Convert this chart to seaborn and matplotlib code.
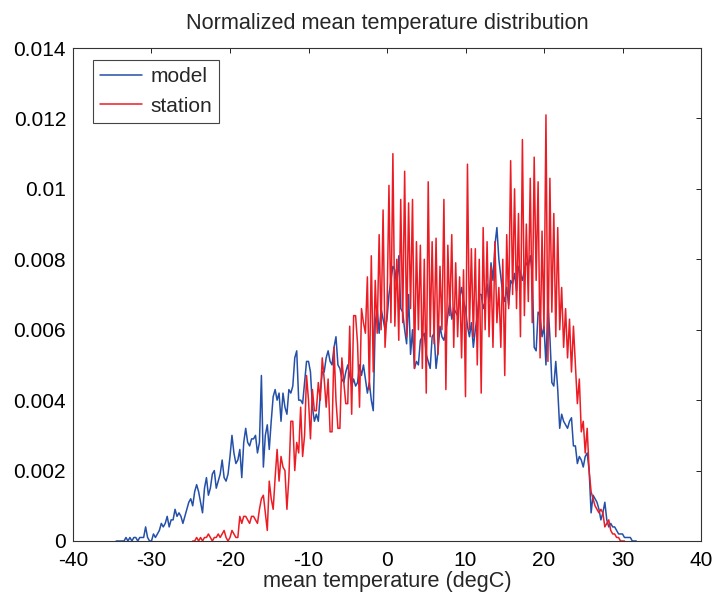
import numpy as np
import pandas as pd
import matplotlib
matplotlib.use("Agg")
import matplotlib.pyplot as plt
import seaborn as sns
from matplotlib.ticker import FuncFormatter

# bin grid (degC)
bin_step = 0.25
model_start = -34.5
station_start = -24.75

# normalized counts, in units of 1e-4
model_pdf = [
    0, 0,
    0, 0, 0, 1,  0, 1, 0, 1,  1, 0, 1, 1,  1, 4, 1, 0,  0, 2, 1, 2,
    3, 5, 4, 5,  7, 4, 6, 6,  9, 7, 8, 7,  5, 7, 9, 11,  12, 10, 14, 16,
    14, 11, 8, 15,  18, 13, 15, 19,  20, 15, 17, 19,  23, 18, 17, 19,  24, 30, 25, 22,
    23, 26, 18, 28,  32, 28, 27, 29,  29, 30, 25, 28,  47, 21, 30, 33,  26, 34, 41, 43,
    40, 42, 34, 42,  38, 36, 43, 42,  44, 52, 54, 40,  40, 39, 45, 51,  51, 48, 38, 34,
    36, 34, 42, 48,  48, 52, 54, 51,  50, 55, 58, 50,  49, 46, 45, 48,  50, 47, 44, 46,
    44, 45, 50, 47,  50, 46, 42, 45,  40, 37, 62, 66,  59, 66, 63, 60,
    63, 70, 74, 78,  77, 72, 81, 66,  65, 60, 56, 70,  53, 60, 49, 51,  50, 57, 58, 59,
    53, 51, 49, 58,  59, 49, 54, 61,  58, 57, 60, 64,  68, 63, 66, 65,  64, 69, 72, 68,
    66, 61, 58, 62,  55, 60, 64, 70,  70, 66, 68, 73,  68, 79, 74, 84,  89, 80, 75, 70,
    68, 72, 67, 74,  73, 76, 71, 78,  76, 74, 77, 79,  78, 81, 76, 55,  54, 65, 64, 58,
    61, 50, 68, 58,  45, 44, 51, 43,  32, 36, 34, 33,  32, 34, 35, 27,  27, 22, 24, 23,
    21, 24, 25, 20,  8, 13, 12, 11,  9, 6, 8, 11,  6, 4, 5, 4,  4, 3, 2, 2,
    2, 1, 1, 1,  1, 0, 0, 0,
]

station_pdf = [
    0, 0, 1,
    0, 1, 0, 1,  1, 2, 1, 0,  1, 1, 2, 1,  2, 3, 1, 0,  1, 3, 2, 1,
    1, 7, 5, 7,  7, 6, 5, 7,  7, 6, 5, 9,  12, 13, 8, 3,  17, 12, 9, 18,
    26, 17, 24, 21,  20, 9, 18, 34,  34, 20, 28, 25,  38, 24, 30, 47,  40, 29, 43, 37,
    37, 45, 40, 52,  46, 38, 46, 31,  31, 55, 40, 32,  32, 52, 45, 39,  39, 61, 36, 64,
    64, 56, 38, 66,  62, 59, 75, 43,  81, 48, 74, 59,  87, 60, 94, 55,
    65, 101, 62, 110,  61, 80, 57, 97,  62, 105, 58, 96,  66, 97, 49, 85,  60, 84, 49, 80,
    42, 102, 58, 85,  56, 86, 53, 78,  60, 97, 43, 84,  64, 87, 55, 79,  58, 75, 52, 77,
    41, 107, 60, 83,  58, 83, 50, 80,  42, 89, 60, 85,  58, 78, 55, 85,  62, 72, 55, 80,
    47, 87, 66, 108,  70, 100, 66, 93,  58, 114, 64, 90,  68, 103, 62, 109,  74, 102, 52, 88,
    60, 121, 51, 103,  65, 93, 58, 89,  60, 72, 55, 66,  52, 63, 48, 61,  50, 39, 46, 31,
    34, 25, 32, 20,  14, 12, 10, 9,  8, 9, 8, 4,  5, 6, 3, 2,  2, 1, 1, 0,
    0, 0,
]

model_df = pd.DataFrame({
    "temp": model_start + bin_step * np.arange(len(model_pdf)),
    "pdf": np.array(model_pdf) / 1e4,
})
station_df = pd.DataFrame({
    "temp": station_start + bin_step * np.arange(len(station_pdf)),
    "pdf": np.array(station_pdf) / 1e4,
})

sns.set_style("white")
plt.rcParams["font.family"] = ["Liberation Sans", "DejaVu Sans"]
plt.rcParams["axes.unicode_minus"] = False

fig = plt.figure(figsize=(7.12, 5.95), dpi=100)
ax = fig.add_axes([73 / 712, 54 / 595, 628 / 712, 493 / 595])

sns.lineplot(data=model_df, x="temp", y="pdf", color="#2450a8", linewidth=1.1,
             label="model", estimator=None, ax=ax)
sns.lineplot(data=station_df, x="temp", y="pdf", color="#ec1c24", linewidth=1.1,
             label="station", estimator=None, ax=ax)

ax.set_xlim(-40, 40)
ax.set_ylim(0, 0.014)
ax.set_xticks(np.arange(-40, 41, 10))
ax.set_yticks(np.arange(0, 0.0141, 0.002))
ax.yaxis.set_major_formatter(FuncFormatter(lambda v, _: f"{round(v, 4):g}"))
ax.tick_params(axis="both", direction="in", length=3.6, width=0.7, top=True, right=True,
               labelsize=15, colors="#222222", labelcolor="black")
ax.tick_params(axis="x", pad=7)
ax.tick_params(axis="y", pad=5)

for sp in ax.spines.values():
    sp.set_visible(True)
    sp.set_color("#333333")
    sp.set_linewidth(0.8)

ax.set_title("Normalized mean temperature distribution", fontsize=15.6, pad=14)
ax.set_xlabel("mean temperature (degC)", fontsize=15.6, labelpad=1)
ax.set_ylabel("")

leg = ax.legend(loc="upper left", bbox_to_anchor=(20 / 628, 1 - 12 / 493),
                borderaxespad=0, fontsize=15, fancybox=False, framealpha=1,
                edgecolor="#444444", handlelength=2.0, handletextpad=0.4,
                borderpad=0.35, labelspacing=0.5)
leg.get_frame().set_linewidth(0.8)

fig.savefig("out.png", dpi=100)
